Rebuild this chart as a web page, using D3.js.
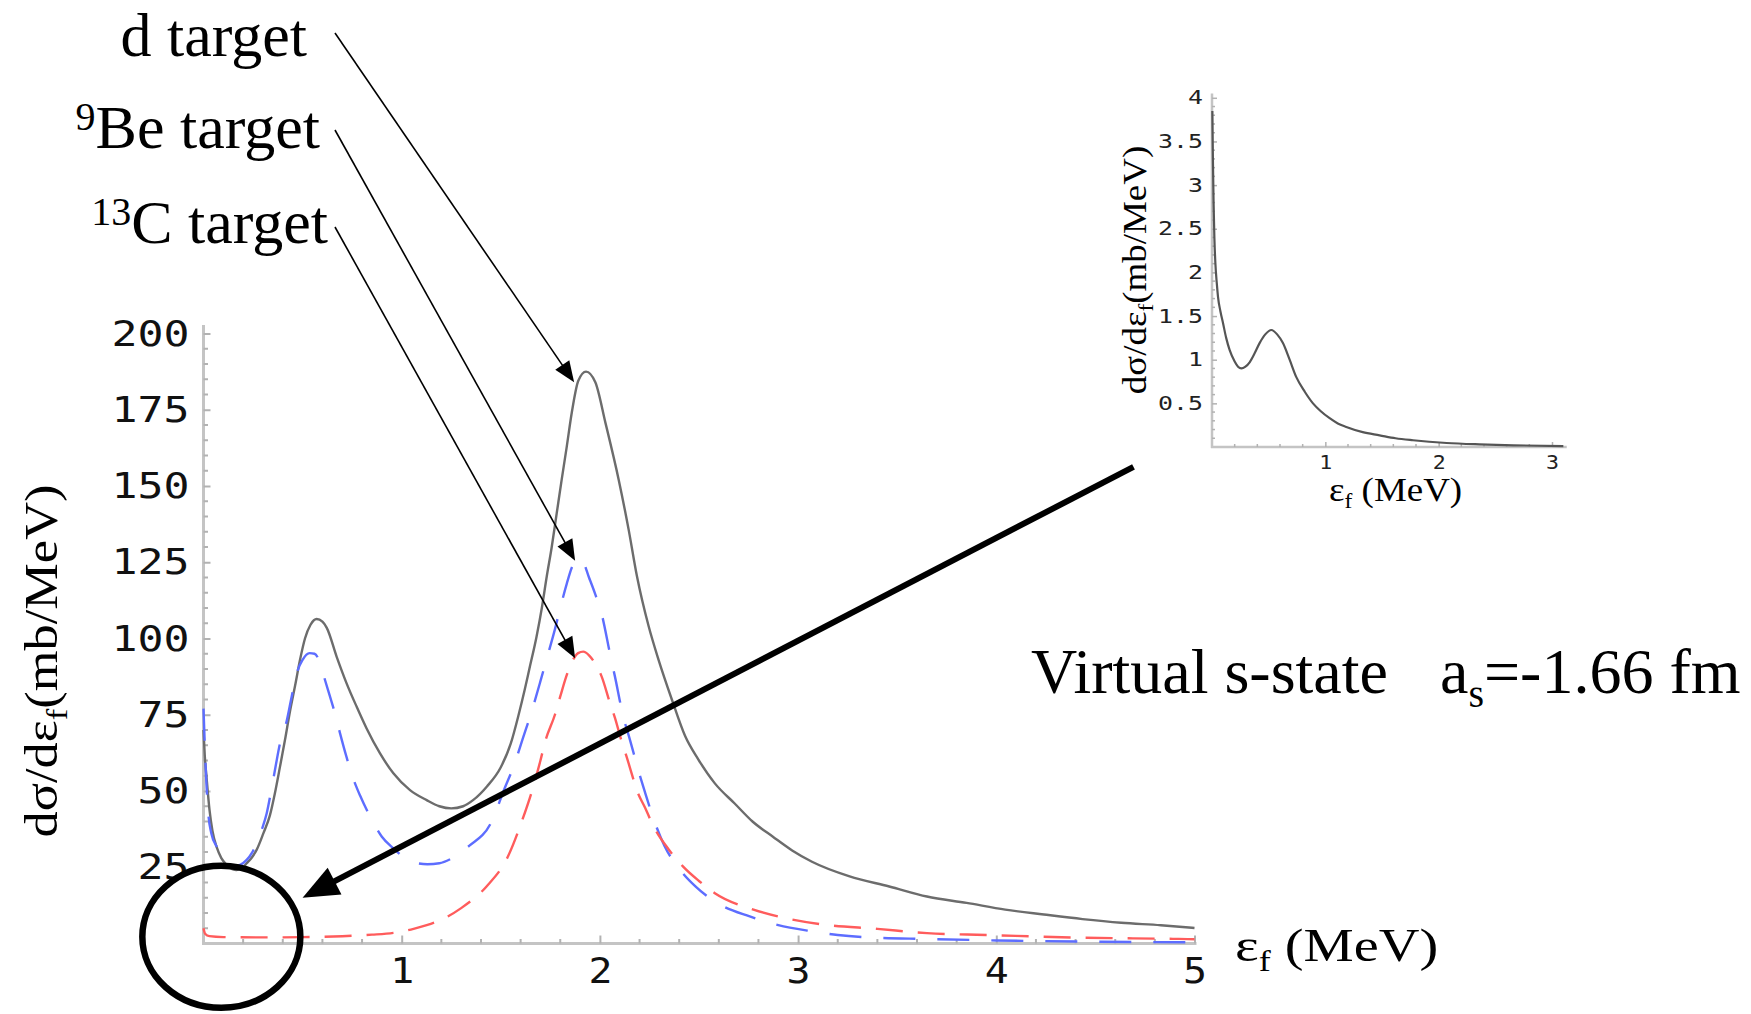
<!DOCTYPE html>
<html>
<head>
<meta charset="utf-8">
<script src="https://cdn.jsdelivr.net/npm/d3@7"></script>
<style>
  html, body { margin: 0; padding: 0; background: #fff; }
  svg { display: block; }
</style>
</head>
<body>
<svg id="chart" width="1751" height="1014"></svg>
<script>
// Final-state energy spectra dσ/dε_f (mb/MeV) vs ε_f (MeV), three targets,
// plus an inset blow-up of the low-energy region.

// [ε_f (MeV), dσ/dε_f (mb/MeV)]
const dTarget = [
  [0,70],[0.006,62],[0.016,54],[0.03,44],[0.045,37],[0.067,31.5],[0.09,28],[0.117,25.8],
  [0.145,24.4],[0.167,24.1],[0.195,24.8],[0.218,26.3],[0.245,28.3],[0.268,30.7],[0.302,36.1],
  [0.335,42],[0.36,49.2],[0.386,58],[0.411,66.7],[0.436,76],[0.462,84.5],[0.487,93],[0.512,100],
  [0.54,104.5],[0.571,106.4],[0.6,105.5],[0.622,103.5],[0.672,94],[0.722,85.3],[0.773,77.6],
  [0.823,70.5],[0.89,62.4],[0.958,55.8],[1.042,50.3],[1.126,47],[1.19,45],[1.25,44.3],[1.31,45],
  [1.36,47],[1.43,51.5],[1.5,57.8],[1.55,65.5],[1.59,75],[1.62,83],[1.644,90],[1.68,100.5],
  [1.707,110],[1.732,120.4],[1.757,130],[1.782,141],[1.807,152],[1.833,163],[1.858,174],
  [1.891,184.5],[1.93,187.5],[1.977,184],[2.028,170.7],[2.095,152],[2.145,135.7],[2.187,120.4],
  [2.246,104],[2.296,93],[2.363,80],[2.43,68],[2.497,60.3],[2.58,52.5],[2.68,45.9],[2.77,40],
  [2.873,35],[2.97,30.5],[3.07,26.8],[3.26,22],[3.46,18.7],[3.65,15.4],[3.85,13.3],[4.045,11.1],
  [4.24,9.5],[4.435,8.0],[4.63,6.8],[4.83,6.0],[5.0,5.1]
];
const beTarget = [
  [0,77],[0.006,66],[0.015,52],[0.025,42],[0.04,36],[0.067,31.7],[0.092,28.5],[0.125,26.2],
  [0.155,25.4],[0.185,25.8],[0.218,27.4],[0.245,29.8],[0.268,32.9],[0.295,37.5],[0.319,42.7],
  [0.344,51],[0.365,58.5],[0.386,65.6],[0.42,73],[0.445,81],[0.47,88.5],[0.5,93],[0.535,95.2],
  [0.56,95],[0.588,92],[0.613,86.4],[0.638,81],[0.663,75.5],[0.689,68.9],[0.72,61.5],[0.756,54],
  [0.79,48.5],[0.85,40.5],[0.9,35],[0.958,31.2],[1.01,28.3],[1.067,26.5],[1.13,26],[1.19,26.3],
  [1.25,27.8],[1.34,32],[1.45,39.5],[1.52,51],[1.57,59],[1.61,67],[1.66,77],[1.70,86],[1.73,93],
  [1.773,103],[1.8,110],[1.833,118],[1.86,123.5],[1.885,126],[1.915,125],[1.945,120],[1.975,114.8],
  [2.009,108],[2.051,95],[2.076,87.5],[2.118,74.4],[2.152,66.7],[2.202,55],[2.228,49.5],[2.27,41],
  [2.326,32],[2.4,24.5],[2.482,18.7],[2.6,13],[2.756,8.9],[2.9,6],[3.07,4.0],[3.2,2.8],[3.36,2],
  [3.65,1.5],[4.0,1.0],[4.5,0.6],[5.0,0.4]
];
const cTarget = [
  [0,5],[0.008,3.2],[0.03,2.4],[0.1,2.1],[0.3,2],[0.5,2.1],[0.7,2.4],[0.85,2.9],[0.958,3.5],
  [1.06,4.8],[1.126,6],[1.2,7.8],[1.3,11.6],[1.428,18.7],[1.536,28.5],[1.608,40.4],[1.662,51],
  [1.70,60],[1.723,66],[1.773,75],[1.80,81],[1.83,87.5],[1.86,92.5],[1.89,95.2],[1.916,95.7],
  [1.945,94.5],[1.975,91.9],[2.009,87.5],[2.051,78.8],[2.076,74],[2.11,66.2],[2.135,61.2],
  [2.16,55.8],[2.186,50.3],[2.228,44.5],[2.27,38.5],[2.35,30.6],[2.42,25.2],[2.5,20.5],[2.58,16.5],
  [2.775,11.1],[2.93,8.4],[3.127,6.2],[3.4,4.8],[3.65,3.4],[3.95,2.8],[4.43,1.9],[4.92,1.5],[5,1.4]
];
// inset: virtual s-state spectrum
const insetCurve = [
  [0.003,3.85],[0.008,3.3],[0.014,2.8],[0.021,2.4],[0.03,2.1],[0.042,1.88],[0.053,1.72],
  [0.075,1.55],[0.097,1.42],[0.125,1.25],[0.156,1.11],[0.2,0.98],[0.23,0.92],[0.259,0.9],
  [0.295,0.92],[0.332,0.97],[0.375,1.07],[0.42,1.19],[0.47,1.29],[0.524,1.34],[0.575,1.29],
  [0.626,1.19],[0.685,1.0],[0.744,0.80],[0.82,0.63],[0.891,0.5],[0.96,0.41],[1.038,0.33],
  [1.11,0.27],[1.185,0.23],[1.33,0.17],[1.479,0.134],[1.62,0.1],[1.774,0.077],[2.07,0.046],
  [2.36,0.03],[2.66,0.019],[3.1,0.011]
];

const yTicks = [25, 50, 75, 100, 125, 150, 175, 200];
const xTicks = [1, 2, 3, 4, 5];
const insetYTicks = [0.5, 1, 1.5, 2, 2.5, 3, 3.5, 4];
const insetXTicks = [1, 2, 3];

// peaks the target labels point to: [ε_f, dσ/dε_f]
const labelTargets = [[1.87, 184], [1.875, 125.5], [1.875, 93.5]];

const svg = d3.select("#chart");
const mono = "'DejaVu Sans Mono', monospace";
const serif = "'Liberation Serif', 'Times New Roman', serif";

const x = d3.scaleLinear().domain([0, 5]).range([203.5, 1194.5]);
const y = d3.scaleLinear().domain([0, 200]).range([943.5, 333.5]);
const xi = d3.scaleLinear().domain([0, 3]).range([1212, 1552]);
const yi = d3.scaleLinear().domain([0, 4]).range([447, 97.8]);

const axisColor = "#c4c4c4";
const tickColor = "#b2b2b2";

// ---------- main axes ----------
const gMain = svg.append("g");
gMain.append("line")
  .attr("x1", x(0)).attr("x2", x(0)).attr("y1", y(0) + 1.5).attr("y2", y(202.8))
  .attr("stroke", axisColor).attr("stroke-width", 3);
gMain.append("line")
  .attr("x1", x(0) - 1.5).attr("x2", x(5.01)).attr("y1", y(0)).attr("y2", y(0))
  .attr("stroke", axisColor).attr("stroke-width", 3);

// minor ticks
gMain.append("g").selectAll("line")
  .data(d3.range(5, 201, 5).filter(v => v % 25 !== 0))
  .join("line")
  .attr("x1", x(0)).attr("x2", x(0) + 4.5)
  .attr("y1", d => y(d)).attr("y2", d => y(d))
  .attr("stroke", tickColor).attr("stroke-width", 2);
gMain.append("g").selectAll("line")
  .data(d3.range(1, 25).map(i => i * 0.2).filter(v => Math.abs(v - Math.round(v)) > 1e-6))
  .join("line")
  .attr("x1", d => x(d)).attr("x2", d => x(d))
  .attr("y1", y(0)).attr("y2", y(0) - 4.5)
  .attr("stroke", tickColor).attr("stroke-width", 2);

const gy = gMain.append("g").attr("transform", `translate(${x(0)},0)`)
  .call(d3.axisLeft(y).tickValues(yTicks).tickSizeInner(-7).tickSizeOuter(0)
    .tickPadding(14).tickFormat(d => String(d)));
gy.select(".domain").remove();
gy.selectAll(".tick line").attr("stroke", tickColor).attr("stroke-width", 2);
gy.selectAll(".tick text")
  .attr("font-family", mono).attr("font-size", 36).attr("fill", "#111")
  .each(function (d) {
    d3.select(this).attr("textLength", String(d).length * 26).attr("lengthAdjust", "spacingAndGlyphs");
  });

const gx = gMain.append("g").attr("transform", `translate(0,${y(0)})`)
  .call(d3.axisBottom(x).tickValues(xTicks).tickSizeInner(-8).tickSizeOuter(0)
    .tickPadding(14).tickFormat(d => String(d)));
gx.select(".domain").remove();
gx.selectAll(".tick line").attr("stroke", tickColor).attr("stroke-width", 2);
gx.selectAll(".tick text")
  .attr("font-family", mono).attr("font-size", 36).attr("fill", "#111")
  .attr("textLength", 24).attr("lengthAdjust", "spacingAndGlyphs");

// ---------- main curves ----------
const line = d3.line().x(d => x(d[0])).y(d => y(d[1])).curve(d3.curveMonotoneX);
gMain.append("path").attr("d", line(dTarget))
  .attr("fill", "none").attr("stroke", "#6c6c6c").attr("stroke-width", 2.4);
gMain.append("path").attr("d", line(beTarget))
  .attr("fill", "none").attr("stroke", "#5d6dff").attr("stroke-width", 2.4)
  .attr("stroke-dasharray", "32,22");
gMain.append("path").attr("d", line(cTarget))
  .attr("fill", "none").attr("stroke", "#ff5c5c").attr("stroke-width", 2.4)
  .attr("stroke-dasharray", "27,15");

// ---------- axis titles ----------
const yTitle = svg.append("text")
  .attr("transform", "translate(57,661) rotate(-90) scale(1.14,1)")
  .attr("text-anchor", "middle")
  .attr("font-family", serif).attr("font-size", 46).attr("fill", "#000");
yTitle.append("tspan").text("dσ/dε");
yTitle.append("tspan").attr("font-size", 30).attr("dy", 10).text("f");
yTitle.append("tspan").attr("dy", -10).text("(mb/MeV)");

const xTitle = svg.append("text")
  .attr("transform", "translate(1235,961) scale(1.2,1)")
  .attr("font-family", serif).attr("font-size", 47).attr("fill", "#000");
xTitle.append("tspan").text("ε");
xTitle.append("tspan").attr("font-size", 30).attr("dy", 10).text("f");
xTitle.append("tspan").attr("dy", -10).text(" (MeV)");

// ---------- inset ----------
const gIn = svg.append("g");
gIn.append("line")
  .attr("x1", xi(0)).attr("x2", xi(0)).attr("y1", yi(0) + 1).attr("y2", yi(4.05))
  .attr("stroke", axisColor).attr("stroke-width", 2.5);
gIn.append("line")
  .attr("x1", xi(0) - 1).attr("x2", xi(3.13)).attr("y1", yi(0)).attr("y2", yi(0))
  .attr("stroke", axisColor).attr("stroke-width", 2.5);
gIn.append("g").selectAll("line")
  .data(d3.range(1, 41).map(i => i * 0.1).filter(v => Math.abs(v * 2 - Math.round(v * 2)) > 1e-6))
  .join("line")
  .attr("x1", xi(0)).attr("x2", xi(0) + 3)
  .attr("y1", d => yi(d)).attr("y2", d => yi(d))
  .attr("stroke", tickColor).attr("stroke-width", 1.5);
gIn.append("g").selectAll("line")
  .data(d3.range(1, 16).map(i => i * 0.2).filter(v => Math.abs(v - Math.round(v)) > 1e-6))
  .join("line")
  .attr("x1", d => xi(d)).attr("x2", d => xi(d))
  .attr("y1", yi(0)).attr("y2", yi(0) - 3)
  .attr("stroke", tickColor).attr("stroke-width", 1.5);

const giy = gIn.append("g").attr("transform", `translate(${xi(0)},0)`)
  .call(d3.axisLeft(yi).tickValues(insetYTicks).tickSizeInner(-5).tickSizeOuter(0)
    .tickPadding(9).tickFormat(d => String(d)));
giy.select(".domain").remove();
giy.selectAll(".tick line").attr("stroke", tickColor).attr("stroke-width", 1.5);
giy.selectAll(".tick text")
  .attr("font-family", mono).attr("font-size", 19).attr("fill", "#222")
  .each(function (d) {
    d3.select(this).attr("textLength", String(d).length * 15).attr("lengthAdjust", "spacingAndGlyphs");
  });

const gix = gIn.append("g").attr("transform", `translate(0,${yi(0)})`)
  .call(d3.axisBottom(xi).tickValues(insetXTicks).tickSizeInner(-5).tickSizeOuter(0)
    .tickPadding(9).tickFormat(d => String(d)));
gix.select(".domain").remove();
gix.selectAll(".tick line").attr("stroke", tickColor).attr("stroke-width", 1.5);
gix.selectAll(".tick text")
  .attr("font-family", mono).attr("font-size", 19).attr("fill", "#222")
  .attr("textLength", 13).attr("lengthAdjust", "spacingAndGlyphs");

const lineIn = d3.line().x(d => xi(d[0])).y(d => yi(d[1])).curve(d3.curveMonotoneX);
gIn.append("path").attr("d", lineIn(insetCurve))
  .attr("fill", "none").attr("stroke", "#555").attr("stroke-width", 2.2);

const iyTitle = gIn.append("text")
  .attr("transform", "translate(1146,270) rotate(-90) scale(1.12,1)")
  .attr("text-anchor", "middle")
  .attr("font-family", serif).attr("font-size", 33).attr("fill", "#000");
iyTitle.append("tspan").text("dσ/dε");
iyTitle.append("tspan").attr("font-size", 21).attr("dy", 7).text("f");
iyTitle.append("tspan").attr("dy", -7).text("(mb/MeV)");

const ixTitle = gIn.append("text")
  .attr("transform", "translate(1329,501) scale(1.12,1)")
  .attr("font-family", serif).attr("font-size", 33).attr("fill", "#000");
ixTitle.append("tspan").text("ε");
ixTitle.append("tspan").attr("font-size", 21).attr("dy", 7).text("f");
ixTitle.append("tspan").attr("dy", -7).text(" (MeV)");

// ---------- annotations ----------
const gAnn = svg.append("g");

function arrow(x1, y1, x2, y2, width, headLen, headHalf) {
  const a = Math.atan2(y2 - y1, x2 - x1);
  const c = Math.cos(a), s = Math.sin(a);
  const bx = x2 - headLen * c, by = y2 - headLen * s;
  gAnn.append("line")
    .attr("x1", x1).attr("y1", y1).attr("x2", bx + 2 * c).attr("y2", by + 2 * s)
    .attr("stroke", "#000").attr("stroke-width", width);
  gAnn.append("polygon")
    .attr("points", [
      [x2, y2],
      [bx - headHalf * s, by + headHalf * c],
      [bx + headHalf * s, by - headHalf * c]
    ].map(p => p.join(",")).join(" "))
    .attr("fill", "#000");
}

const labelSpecs = [
  { sup: null, main: "d target", endX: 307, baseY: 56, from: [335, 33] },
  { sup: "9", main: "Be target", endX: 320, baseY: 148, from: [335, 130] },
  { sup: "13", main: "C target", endX: 328, baseY: 243, from: [335, 227] }
];
labelSpecs.forEach((L, i) => {
  const t = gAnn.append("text")
    .attr("x", L.endX).attr("y", L.baseY).attr("text-anchor", "end")
    .attr("font-family", serif).attr("font-size", 62).attr("fill", "#000");
  if (L.sup) {
    t.append("tspan").attr("font-size", 40).attr("dy", -18).text(L.sup);
    t.append("tspan").attr("dy", 18).text(L.main);
  } else {
    t.append("tspan").text(L.main);
  }
  const tgt = labelTargets[i];
  arrow(L.from[0], L.from[1], x(tgt[0]), y(tgt[1]), 1.6, 21, 8.5);
});

// circled low-energy region with the pointer from the inset
gAnn.append("ellipse")
  .attr("cx", x(0.09)).attr("cy", y(2.2)).attr("rx", 79).attr("ry", 71)
  .attr("fill", "none").attr("stroke", "#000").attr("stroke-width", 6.5);
arrow(1133.5, 466.8, x(0.5), y(15), 6, 36, 15);

// scattering-length note
const note = gAnn.append("text")
  .attr("y", 693).attr("font-family", serif).attr("font-size", 64).attr("fill", "#000");
note.append("tspan").attr("x", 1031).text("Virtual s-state");
note.append("tspan").attr("x", 1440).text("a");
note.append("tspan").attr("font-size", 40).attr("dy", 14).text("s");
note.append("tspan").attr("dy", -14).text("=-1.66 fm");
</script>
</body>
</html>
